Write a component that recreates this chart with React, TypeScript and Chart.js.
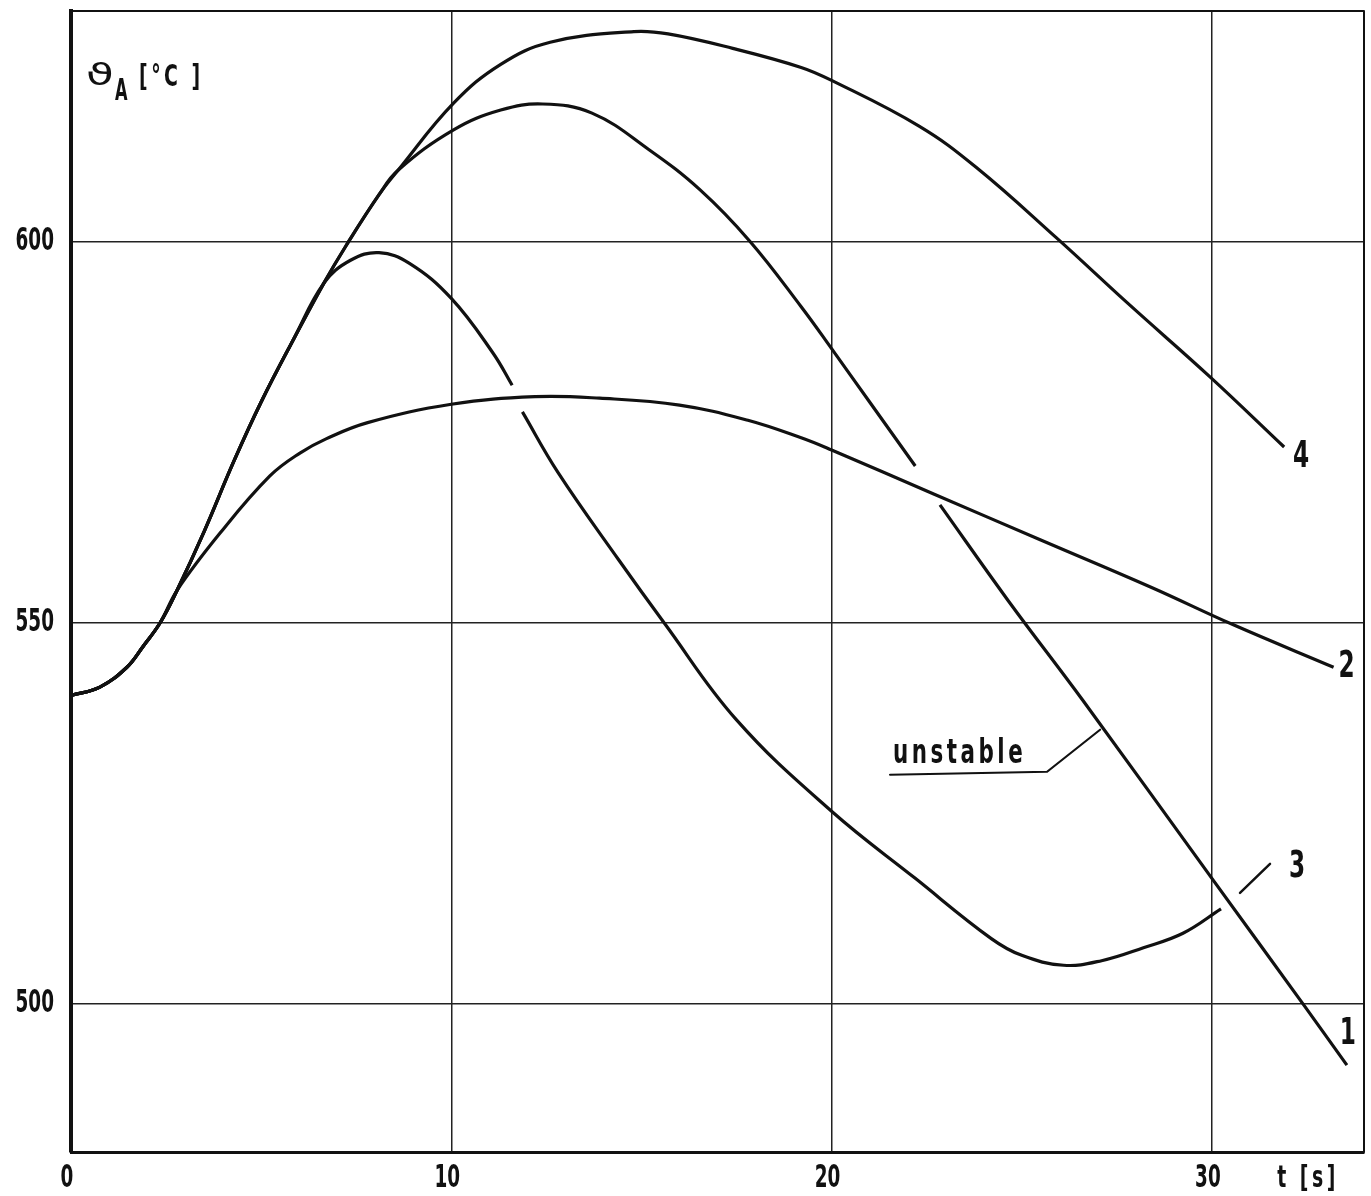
import React, { useEffect, useRef } from "react";
import { Chart, registerables } from "chart.js";

Chart.register(...registerables);

// ---- axes ----
const xTickValues = [0, 10, 20, 30];
const yTickValues = [500, 550, 600];
const xMin = 0;
const xMax = 34;
const yMin = 480.6;
const yMax = 630.3;
const xUnitLabel = "t [s]";
const yTitleSymbol = "ϑ";
const yTitleSub = "A";
const yTitleUnit = "[°C ]";

// ---- curves (t in s, temperature in °C); null = gap in the drawn line ----
const curveNames = ["1", "2", "3", "4"];

const curve1T = [0, 0.76, 1.47, 1.89, 2.34, 2.79, 3.5, 4.28, 5.0, 5.86, 6.65, 7.22, 8.1, 8.6, 10.06, 11.3, 12.4, 13.7, 15.2, 16.55, 17.85, 19.2, 20.0, 21.0, 22.2, 22.5, 22.85, 24.65, 26.6, 30.0, 32.4, 33.55];
const curve1Y = [540.5, 541.6, 544.2, 546.9, 550, 554.3, 562.0, 571.2, 579.0, 587.3, 594.6, 599.4, 606.2, 609.4, 614.7, 617.3, 618.1, 616.9, 612.1, 606.8, 600.1, 591.5, 586.0, 579.0, 570.6, null, 565.5, 552.9, 539.9, 516.5, 500.0, 492.0];

const curve2T = [0, 0.76, 1.47, 1.89, 2.34, 2.79, 3.92, 5.23, 6.02, 6.72, 7.8, 10.0, 12.2, 13.9, 16.0, 17.8, 19.2, 20.0, 22.7, 25.5, 28.4, 30.55, 33.2];
const curve2Y = [540.5, 541.6, 544.2, 546.9, 550, 554.3, 561.8, 569.3, 572.3, 574.2, 576.3, 578.7, 579.7, 579.5, 578.6, 576.6, 574.3, 572.7, 566.9, 560.9, 554.7, 549.8, 544.2];

const curve3T = [0, 0.76, 1.47, 1.89, 2.34, 2.79, 3.5, 4.28, 5.0, 5.86, 6.65, 7.35, 8.1, 8.9, 10.0, 11.1, 11.6, 11.75, 11.87, 12.8, 14.4, 15.6, 17.5, 20.0, 22.2, 24.2, 25.0, 26.1, 27.1, 28.2, 29.24, 30.24];
const curve3Y = [540.5, 541.6, 544.2, 546.9, 550, 554.3, 562.0, 571.2, 579.0, 587.3, 594.6, 597.6, 598.6, 597.2, 592.6, 585.4, 581.2, null, 577.7, 569.8, 558.3, 550.0, 537.3, 525.3, 516.5, 508.6, 506.4, 505.1, 505.7, 507.4, 509.3, 512.5];

const curve4T = [0, 0.76, 1.47, 1.89, 2.34, 2.79, 3.5, 4.28, 5.0, 5.86, 6.65, 7.22, 8.1, 8.6, 10.06, 11.3, 12.6, 14.8, 15.7, 17.4, 19.2, 20.0, 22.3, 23.8, 25.9, 27.8, 29.95, 31.9];
const curve4Y = [540.5, 541.6, 544.2, 546.9, 550, 554.3, 562.0, 571.2, 579.0, 587.3, 594.6, 599.4, 606.2, 609.4, 618.2, 623.3, 626.2, 627.6, 627.3, 625.4, 622.9, 621.2, 615.2, 609.8, 600.6, 591.9, 582.3, 573.1];

// annotation: "unstable" points at curve 1 here
const unstableText = "unstable";
const unstableAnchorT = 27.06;
const unstableAnchorY = 536.0;

const FONT = '"DejaVu Sans Condensed", "DejaVu Sans", sans-serif';
const INK = "#111";

const curvesT = [curve1T, curve2T, curve3T, curve4T];
const curvesY = [curve1Y, curve2Y, curve3Y, curve4Y];

function lastPoint(ts: number[], ys: (number | null)[]) {
  for (let i = ts.length - 1; i >= 0; i--) {
    if (ys[i] !== null) return { x: ts[i], y: ys[i] as number };
  }
  return { x: 0, y: 0 };
}

// draws text horizontally condensed by sx (lettering-stencil look)
function drawText(
  ctx: CanvasRenderingContext2D,
  text: string,
  x: number,
  y: number,
  font: string,
  sx: number,
  align: CanvasTextAlign,
  baseline: CanvasTextBaseline,
  spacing = 0
) {
  ctx.save();
  ctx.translate(x, y);
  ctx.scale(sx, 1);
  ctx.font = font;
  (ctx as any).letterSpacing = `${spacing}px`;
  ctx.textAlign = align;
  ctx.textBaseline = baseline;
  ctx.fillText(text, 0, 0);
  ctx.restore();
}

const decorPlugin = {
  id: "decor",
  afterDraw(chart: any) {
    const { ctx, chartArea: a, scales } = chart;
    const xs = scales.x;
    const ys = scales.y;
    ctx.save();
    ctx.strokeStyle = INK;
    ctx.fillStyle = INK;
    ctx.lineCap = "round";

    // frame top & right
    ctx.lineWidth = 2;
    ctx.beginPath();
    ctx.moveTo(a.left, a.top);
    ctx.lineTo(a.right, a.top);
    ctx.moveTo(a.right, a.top);
    ctx.lineTo(a.right, a.bottom);
    ctx.stroke();

    const tickFont = `bold 32px ${FONT}`;
    // y tick labels
    ys.ticks.forEach((t: any) => {
      const py = ys.getPixelForValue(t.value);
      drawText(ctx, String(t.value), a.left - 17, py, tickFont, 0.64, "right", "middle");
    });
    // x tick labels
    xs.ticks.forEach((t: any) => {
      const px = xs.getPixelForValue(t.value);
      drawText(ctx, String(t.value), px - 4, a.bottom + 27, tickFont, 0.64, "center", "middle");
    });

    // y-axis title  ϑA [°C ]
    drawText(ctx, yTitleSymbol, a.left + 15, a.top + 74, `normal 30px "DejaVu Sans", sans-serif`, 1.5, "left", "alphabetic");
    drawText(ctx, yTitleSub, a.left + 44, a.top + 89, `bold 30px ${FONT}`, 0.6, "left", "alphabetic");
    drawText(ctx, yTitleUnit, a.left + 68, a.top + 75, `bold 30px ${FONT}`, 0.7, "left", "alphabetic", 5);

    // x unit label
    drawText(ctx, xUnitLabel, a.right - 56, a.bottom + 27, `bold 30px ${FONT}`, 0.7, "center", "middle", 5);

    // curve labels
    const offsets = [
      { dx: 1, dy: -31 },
      { dx: 13, dy: 0 },
      { dx: 76, dy: -42 },
      { dx: 17, dy: 10 },
    ];
    curveNames.forEach((name, i) => {
      const p = lastPoint(curvesT[i], curvesY[i]);
      const px = xs.getPixelForValue(p.x);
      const py = ys.getPixelForValue(p.y);
      drawText(ctx, name, px + offsets[i].dx, py + offsets[i].dy, `bold 38px ${FONT}`, 0.68, "center", "middle");
      if (i === 2) {
        ctx.lineWidth = 2.5;
        ctx.beginPath();
        ctx.moveTo(px + 19, py - 16);
        ctx.lineTo(px + 49, py - 45);
        ctx.stroke();
      }
    });

    // "unstable" with leader
    const ax = xs.getPixelForValue(unstableAnchorT);
    const ay = ys.getPixelForValue(unstableAnchorY);
    ctx.lineWidth = 2.2;
    ctx.beginPath();
    ctx.moveTo(ax - 210, ay + 45);
    ctx.lineTo(ax - 53, ay + 42);
    ctx.lineTo(ax, ay);
    ctx.stroke();
    drawText(ctx, unstableText, ax - 207, ay + 33, `bold 34px ${FONT}`, 0.7, "left", "alphabetic", 5);

    ctx.restore();
  },
};

export default function App() {
  const ref = useRef<HTMLCanvasElement | null>(null);

  useEffect(() => {
    if (!ref.current) return;
    const datasets = curvesT.map((ts, i) => ({
      label: curveNames[i],
      data: ts.map((t, j) => ({ x: t, y: curvesY[i][j] })),
      borderColor: INK,
      borderWidth: 3.2,
      pointRadius: 0,
      fill: false,
      tension: 0.4,
      spanGaps: false,
    }));

    const zeroPad = (s: any) => {
      s.paddingTop = 0;
      s.paddingBottom = 0;
      s.paddingLeft = 0;
      s.paddingRight = 0;
    };

    const chart = new Chart(ref.current, {
      type: "line",
      data: { datasets },
      options: {
        animation: false,
        responsive: false,
        layout: { padding: { top: 11, right: 7, left: 0, bottom: 0 } },
        plugins: {
          legend: { display: false },
          tooltip: { enabled: false },
          title: { display: false },
        },
        scales: {
          x: {
            type: "linear",
            min: xMin,
            max: xMax,
            afterBuildTicks: (s: any) => {
              s.ticks = xTickValues.map((v) => ({ value: v }));
            },
            afterFit: (s: any) => {
              s.height = 44;
              zeroPad(s);
            },
            grid: { color: "#222", lineWidth: 1.5, drawTicks: false },
            border: { color: INK, width: 3 },
            ticks: { display: false },
          },
          y: {
            type: "linear",
            min: yMin,
            max: yMax,
            afterBuildTicks: (s: any) => {
              s.ticks = yTickValues.map((v) => ({ value: v }));
            },
            afterFit: (s: any) => {
              s.width = 71;
              zeroPad(s);
            },
            grid: { color: "#222", lineWidth: 1.5, drawTicks: false },
            border: { color: INK, width: 4 },
            ticks: { display: false },
          },
        },
      },
      plugins: [decorPlugin],
    });
    return () => chart.destroy();
  }, []);

  return (
    <div style={{ position: "absolute", left: 0, top: 0, width: 1371, height: 1196, background: "#fff" }}>
      <canvas ref={ref} width={1371} height={1196} style={{ width: 1371, height: 1196, display: "block" }} />
    </div>
  );
}
